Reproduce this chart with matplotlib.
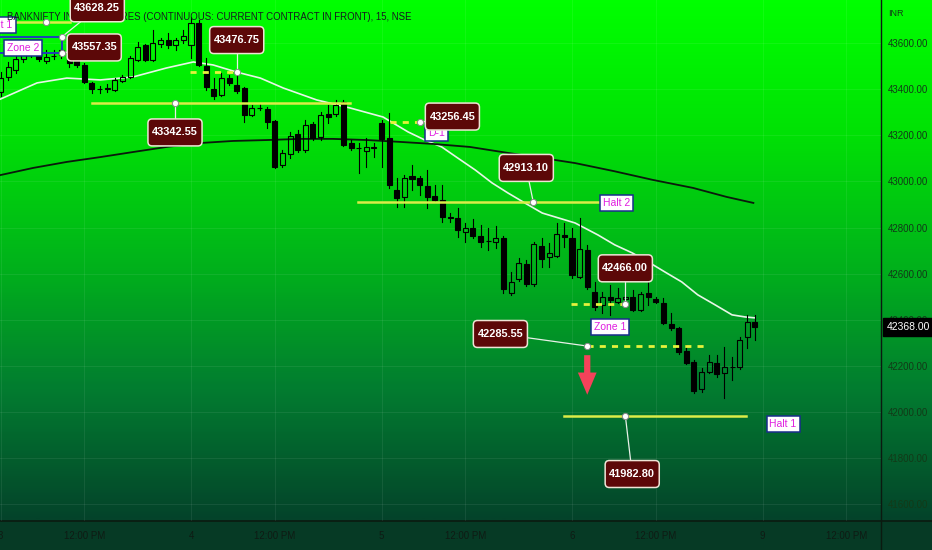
import numpy as np
import matplotlib
matplotlib.use("Agg")
import matplotlib.pyplot as plt
from matplotlib.patches import Rectangle, FancyBboxPatch
from matplotlib.colors import LinearSegmentedColormap
import matplotlib.transforms as mtransforms

# 15 min bars, sessions of 3, 4, 5, 6 Jan (25 bars each)
opens = [43389, 43454, 43484, 43532, 43584, 43554, 43523, 43545, 43549, 43558,
         43528, 43506, 43428, 43402, 43400, 43397, 43436, 43454, 43528, 43593,
         43528, 43597, 43614, 43593, 43614,
         43593, 43688, 43502, 43402, 43376, 43449, 43419, 43406, 43289, 43319,
         43315, 43263, 43072, 43120, 43206, 43137, 43250, 43193, 43293, 43293,
         43345, 43167, 43146, 43133, 43146,
         43254, 43189, 42963, 42933, 43024, 43015, 42981, 42937, 42920, 42846,
         42842, 42781, 42798, 42764, 42742, 42738, 42755, 42516, 42577, 42642,
         42555, 42720, 42672, 42677, 42768,
         42755, 42586, 42703, 42520, 42464, 42499, 42477, 42490, 42499, 42442,
         42516, 42490, 42473, 42382, 42364, 42265, 42217, 42099, 42173, 42212,
         42169, 42195, 42193, 42325, 42390]
highs = [43475, 43519, 43549, 43597, 43601, 43562, 43571, 43571, 43580, 43571,
         43536, 43515, 43432, 43415, 43423, 43449, 43462, 43545, 43606, 43597,
         43658, 43623, 43645, 43623, 43658,
         43714, 43701, 43536, 43449, 43471, 43462, 43475, 43410, 43332, 43336,
         43323, 43267, 43137, 43215, 43224, 43267, 43258, 43302, 43332, 43354,
         43354, 43180, 43167, 43189, 43167,
         43267, 43297, 43015, 43028, 43072, 43024, 43050, 42985, 42985, 42863,
         42885, 42820, 42837, 42811, 42798, 42807, 42764, 42607, 42668, 42659,
         42738, 42755, 42733, 42820, 42820,
         42798, 42842, 42724, 42564, 42520, 42551, 42538, 42551, 42529, 42520,
         42564, 42499, 42494, 42429, 42369, 42290, 42225, 42190, 42247, 42247,
         42282, 42238, 42325, 42421, 42421]
lows = [43371, 43441, 43471, 43519, 43541, 43523, 43515, 43532, 43536, 43497,
        43497, 43428, 43384, 43384, 43389, 43393, 43432, 43449, 43523, 43523,
        43523, 43584, 43580, 43571, 43601,
        43536, 43502, 43397, 43358, 43372, 43419, 43384, 43258, 43284, 43310,
        43232, 43059, 43063, 43102, 43128, 43128, 43180, 43180, 43254, 43284,
        43154, 43137, 43037, 43063, 43106,
        43063, 42972, 42889, 42889, 42963, 42941, 42885, 42911, 42824, 42824,
        42759, 42738, 42755, 42716, 42703, 42712, 42516, 42508, 42568, 42547,
        42547, 42629, 42629, 42672, 42716,
        42581, 42581, 42533, 42442, 42429, 42421, 42473, 42473, 42438, 42438,
        42464, 42473, 42382, 42356, 42251, 42208, 42082, 42087, 42169, 42151,
        42060, 42138, 42186, 42277, 42312]
closes = [43449, 43497, 43532, 43584, 43554, 43532, 43541, 43543, 43571, 43515,
          43506, 43432, 43402, 43400, 43406, 43441, 43454, 43536, 43584, 43528,
          43601, 43614, 43593, 43614, 43632,
          43688, 43506, 43410, 43371, 43449, 43428, 43393, 43289, 43319, 43317,
          43258, 43063, 43124, 43198, 43137, 43245, 43189, 43289, 43280, 43332,
          43159, 43146, 43144, 43150, 43148,
          43185, 42985, 42929, 43015, 43011, 42985, 42933, 42920, 42846, 42843,
          42790, 42798, 42764, 42738, 42740, 42755, 42534, 42564, 42646, 42555,
          42729, 42664, 42690, 42772, 42759,
          42594, 42707, 42542, 42455, 42499, 42486, 42494, 42499, 42442, 42512,
          42499, 42477, 42386, 42364, 42260, 42212, 42091, 42173, 42217, 42165,
          42195, 42193, 42312, 42390, 42368]
last_price = 42368.00

# moving averages (bar index, price)
fast_ma_x = [0, 4.8, 8.7, 13.1, 17.4, 21.8, 25.3, 27.9, 31.0, 34.1, 37.1, 41.5, 45.9,
             50.2, 53.5, 55.7, 57.9, 60.0, 62.3, 64.5, 66.6, 68.8, 71.1, 73.2, 75.4,
             78.4, 80.6, 82.9, 85.0, 87.2, 89.4, 91.5, 93.8, 96.0, 97.7, 99.0]
fast_ma_y = [43358, 43428, 43449, 43441, 43454, 43493, 43519, 43506, 43475, 43449,
             43406, 43354, 43319, 43280, 43215, 43180, 43150, 43102, 43050, 42994,
             42950, 42907, 42863, 42842, 42820, 42768, 42725, 42690, 42651, 42607,
             42564, 42508, 42464, 42421, 42412, 42408]
slow_ma_x = [0, 4.3, 8.7, 13.1, 17.4, 21.8, 26.2, 30.5, 35.0, 39.3, 43.6, 48.1, 52.4,
             56.8, 61.6, 66.6, 71.1, 75.4, 80.5, 85.6, 90.9, 95.3, 98.8]
slow_ma_y = [43028, 43059, 43085, 43106, 43128, 43150, 43167, 43176, 43180, 43185,
             43185, 43180, 43172, 43163, 43150, 43124, 43102, 43080, 43045, 43007,
             42972, 42933, 42907]

# drawn levels: price, start bar, end bar, marker bar, dashed
level_price = [43692.00, 43342.55, 43476.75, 43256.45, 42913.10, 42466.00, 42285.55, 41982.80]
level_start = [0, 12.0, 24.9, 51.1, 46.9, 74.9, 77.0, 74.0]
level_end = [9.1, 45.9, 31.0, 54.9, 78.9, 82.0, 93.0, 97.8]
level_mark = [6.0, 22.9, 31.0, 55.0, 69.9, 82.0, 77.0, 82.0]
level_dashed = [False, False, True, True, False, True, True, False]

zone2_top, zone2_bottom = 43628.25, 43557.35

tick_pos = [0, 11, 25, 36, 50, 61, 75, 86, 100, 111]
tick_lab = ["3", "12:00 PM", "4", "12:00 PM", "5", "12:00 PM", "6", "12:00 PM", "9", "12:00 PM"]
price_ticks = [41600, 41800, 42000, 42200, 42400, 42600, 42800, 43000, 43200, 43400, 43600]

title = "BANKNIFTY INDEX FUTURES (CONTINUOUS: CURRENT CONTRACT IN FRONT), 15, NSE"

FONT = "Liberation Sans"
W, H = 932, 550
fig = plt.figure(figsize=(W / 100, H / 100), dpi=100)

# background gradient + time axis band
bg = fig.add_axes([0, 0, 1, 1], zorder=0)
cmap = LinearSegmentedColormap.from_list("bg", [(0.0, "#00ff00"), (0.25, "#00e205"),
                                                (0.5, "#00b41a"), (0.75, "#027c30"),
                                                (1.0, "#04432a")])
bg.imshow(np.linspace(0, 1, 300).reshape(-1, 1), cmap=cmap, aspect="auto",
          extent=[0, 1, 29 / H, 1])
bg.add_patch(Rectangle((0, 0), 1, 29 / H, color="#063a25"))
bg.plot([0, 1], [29 / H, 29 / H], color="#0b1a10", lw=1.2)
bg.plot([881 / W, 881 / W], [0, 1], color="#0b1a10", lw=1.0)
bg.set_xlim(0, 1)
bg.set_ylim(0, 1)
bg.axis("off")

ax = fig.add_axes([0, 29 / H, 881 / W, 521 / H], zorder=1)
ax.set_facecolor("none")
ax.set_xlim(-0.066, 115.55)
ax.set_ylim(41526, 43788)
for s in ax.spines.values():
    s.set_visible(False)

ax.grid(True, color="white", alpha=0.07, lw=0.8)
ax.yaxis.tick_right()
ax.set_yticks(price_ticks)
ax.set_yticklabels([f"{v:.2f}" for v in price_ticks])
ax.set_xticks(tick_pos)
ax.set_xticklabels(tick_lab)
ax.tick_params(axis="y", length=0, pad=5, labelsize=7, labelcolor="#123a18")
ax.tick_params(axis="x", length=0, pad=7, labelsize=7, labelcolor="#0f1b14")
for lab in ax.get_xticklabels() + ax.get_yticklabels():
    lab.set_family(FONT)

# candles
bw = 0.66
for i in range(len(opens)):
    o, h, l, c = opens[i], highs[i], lows[i], closes[i]
    lo, hi = min(o, c), max(o, c)
    if hi - lo < 3:
        hi = lo + 3
    ax.plot([i, i], [l, lo], color="black", lw=0.8, zorder=3)
    ax.plot([i, i], [hi, h], color="black", lw=0.8, zorder=3)
    if c >= o:
        ax.add_patch(Rectangle((i - bw / 2, lo), bw, hi - lo, fc="none", ec="black", lw=0.8, zorder=3))
    else:
        ax.add_patch(Rectangle((i - bw / 2, lo), bw, hi - lo, fc="black", ec="black", lw=0.8, zorder=3))

ax.plot(fast_ma_x, fast_ma_y, color="#e8f6e8", lw=1.2, zorder=2.5)
ax.plot(slow_ma_x, slow_ma_y, color="#0a1a0c", lw=1.3, zorder=2.5)

# levels
for p, a, b, m, d in zip(level_price, level_start, level_end, level_mark, level_dashed):
    if d:
        ax.plot([a, b], [p, p], color="#e6f23c", lw=2.0, ls=(0, (2.2, 2.2)), zorder=4)
    else:
        ax.plot([a, b], [p, p], color="#dcec48", lw=1.8, zorder=4)
    ax.plot(m, p, "o", ms=4.5, mfc="white", mec="#8a8a8a", mew=0.7, zorder=5)

ax.add_patch(Rectangle((-1, zone2_bottom), 9.07, zone2_top - zone2_bottom,
                       fill=False, ec="#1f3fb8", lw=1.4, zorder=4))
ax.plot([8.07, 8.07], [zone2_bottom, zone2_top], "o", ms=4.5, mfc="white",
        mec="#8a8a8a", mew=0.7, zorder=5)

# price callouts: (text, marker bar, marker price, label bar, label price)
callouts = [("43628.25", 8.07, 43628.25, 12.7, 43752),
            ("43557.35", 8.07, 43557.35, 12.3, 43582),
            ("43476.75", 31.0, 43476.75, 31.0, 43614),
            ("43342.55", 22.9, 43342.55, 22.9, 43213),
            ("43256.45", 55.0, 43256.45, 59.3, 43282),
            ("42913.10", 69.9, 42913.10, 69.0, 43059),
            ("42466.00", 82.0, 42466.00, 82.0, 42623),
            ("42285.55", 77.0, 42285.55, 65.6, 42338),
            ("41982.80", 82.0, 41982.80, 82.9, 41730)]
box_w, box_h = 7.1, 117     # ~54 x 27 px
for s, mx, my, lx, ly in callouts:
    ax.plot([mx, lx], [my, ly], color="#e8f0e8", lw=0.9, zorder=4.9)
    ax.add_patch(FancyBboxPatch((lx - box_w / 2, ly - box_h / 2), box_w, box_h,
                                boxstyle="round,pad=0,rounding_size=0.55", mutation_aspect=33,
                                fc="#5c0808", ec="#efe4d6", lw=1.1, zorder=6))
    ax.text(lx, ly, s, ha="center", va="center", fontsize=7.9, fontweight="bold",
            family=FONT, color="white", zorder=6.1)

# small tags
tags = [("Halt 1", 1.6, 43680, "right"), ("Zone 2", 2.95, 43580, "center"),
        ("D-1", 57.2, 43211, "center"), ("Halt 2", 80.8, 42907, "center"),
        ("Zone 1", 80.0, 42369, "center"), ("Halt 1", 102.7, 41947, "center")]
for s, tx, ty, ha in tags:
    ax.text(tx, ty, s, ha=ha, va="center", fontsize=7.5, family=FONT,
            color="#e01ee0", zorder=5.8 if s == "D-1" else 5.5,
            bbox=dict(boxstyle="square,pad=0.28", fc="white", ec="#1a2d8c", lw=1.1))

ax.annotate("", xy=(77, 42062), xytext=(77, 42258),
            arrowprops=dict(arrowstyle="simple,head_length=1.6,head_width=1.35,tail_width=0.45",
                            color="#f5425a", lw=0), zorder=5)

ax.text(7 / 881, 1 - 17 / 521, title, transform=ax.transAxes, ha="left", va="center",
        fontsize=6.9, family=FONT, color="#161a20", zorder=5.7)

trans = mtransforms.blended_transform_factory(ax.transAxes, ax.transData)
ax.annotate(f"{last_price:.2f}", xy=(1, last_price), xycoords=trans, xytext=(4, 0),
            textcoords="offset points", ha="left", va="center", fontsize=7.5,
            family=FONT, color="white", annotation_clip=False, zorder=7,
            bbox=dict(boxstyle="square,pad=0.35", fc="black", ec="black"))

fig.text(888 / W, 1 - 14 / H, "INR", fontsize=6.5, family=FONT, color="#123a18",
         va="center", ha="left")

fig.savefig("out.png", dpi=100)
